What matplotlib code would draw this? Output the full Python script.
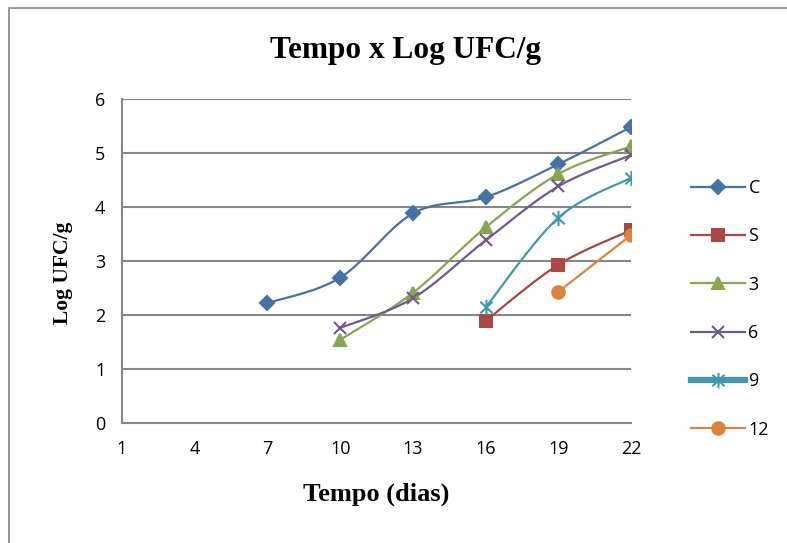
import numpy as np
import matplotlib
matplotlib.use("Agg")
import matplotlib.pyplot as plt
from matplotlib.lines import Line2D
from matplotlib.patches import Rectangle
from matplotlib.path import Path

dias = [1, 4, 7, 10, 13, 16, 19, 22]

# Log UFC/g per day for each sample (None = no reading)
serie_C = [None, None, 2.22, 2.69, 3.88, 4.18, 4.79, 5.48]
serie_S = [None, None, None, None, None, 1.89, 2.93, 3.57]
serie_3 = [None, None, None, 1.54, 2.41, 3.62, 4.61, 5.12]
serie_6 = [None, None, None, 1.76, 2.31, 3.38, 4.38, 4.96]
serie_9 = [None, None, None, None, None, 2.14, 3.80, 4.54]
serie_12 = [None, None, None, None, None, None, 2.43, 3.48]

nomes = ['C', 'S', '3', '6', '9', '12']
series = [serie_C, serie_S, serie_3, serie_6, serie_9, serie_12]
cores = ['#4572A7', '#AA4643', '#89A54E', '#71588F', '#4198AF', '#DB843D']

# star marker: vertical stroke plus an X
estrela = Path([(0, -1), (0, 1), (-0.8, -0.75), (0.8, 0.75), (-0.8, 0.75), (0.8, -0.75)],
               [Path.MOVETO, Path.LINETO, Path.MOVETO, Path.LINETO, Path.MOVETO, Path.LINETO])
marcas = ['D', 's', '^', 'x', estrela, 'o']
tamanhos = [7, 9, 9, 9, 11, 9]


def suaviza(x, y, n=30):
    # bezier spline through the points, like the smoothed line in a spreadsheet
    x = np.asarray(x, float)
    y = np.asarray(y, float)
    if len(x) < 3:
        return x, y
    px, py = [], []
    for i in range(len(x) - 1):
        x0, y0 = (x[i - 1], y[i - 1]) if i > 0 else (x[i], y[i])
        x3, y3 = (x[i + 2], y[i + 2]) if i + 2 < len(x) else (x[i + 1], y[i + 1])
        c1x = x[i] + (x[i + 1] - x0) / 6
        c1y = y[i] + (y[i + 1] - y0) / 6
        c2x = x[i + 1] - (x3 - x[i]) / 6
        c2y = y[i + 1] - (y3 - y[i]) / 6
        t = np.linspace(0, 1, n)
        bx = (1-t)**3*x[i] + 3*(1-t)**2*t*c1x + 3*(1-t)*t**2*c2x + t**3*x[i+1]
        by = (1-t)**3*y[i] + 3*(1-t)**2*t*c1y + 3*(1-t)*t**2*c2y + t**3*y[i+1]
        px.extend(bx)
        py.extend(by)
    return np.array(px), np.array(py)


fig = plt.figure(figsize=(7.87, 5.43), dpi=100)
ax = fig.add_axes([0.155, 0.221, 0.647, 0.597])

pos = np.arange(len(dias))
handles = []
for nome, vals, cor, m, ms in zip(nomes, series, cores, marcas, tamanhos):
    xs = [p for p, v in zip(pos, vals) if v is not None]
    ys = [v for v in vals if v is not None]
    sx, sy = suaviza(xs, ys)
    ax.plot(sx, sy, color=cor, lw=1.6, zorder=3)
    ax.plot(xs, ys, linestyle='none', marker=m, color=cor, markersize=ms,
            markeredgewidth=1.5, zorder=4)
    lw_leg = 4.5 if nome == '9' else 1.6
    handles.append(Line2D([], [], color=cor, lw=lw_leg, marker=m, markersize=ms,
                          markeredgewidth=1.5))

ax.set_xlim(0, len(dias) - 1)
ax.set_ylim(0, 6)
ax.set_xticks(pos)
ax.set_xticklabels([str(d) for d in dias])
ax.set_yticks(range(7))
ax.yaxis.grid(True, color='#868686', lw=1.5)
ax.set_axisbelow(True)
for s in ['top', 'right']:
    ax.spines[s].set_visible(False)
for s in ['left', 'bottom']:
    ax.spines[s].set_color('#868686')
    ax.spines[s].set_linewidth(1.5)
ax.tick_params(length=0, labelsize=13)
for lab in ax.get_xticklabels() + ax.get_yticklabels():
    lab.set_fontfamily('Open Sans')
ax.tick_params(axis='x', pad=12)
ax.tick_params(axis='y', pad=12)

fig.text(0.515, 0.907, 'Tempo x Log UFC/g', fontsize=22.5, fontweight='bold',
         family='Liberation Serif', ha='center', va='center')
ax.set_xlabel('Tempo (dias)', fontsize=19, fontweight='bold',
              family='Liberation Serif', labelpad=18)
ax.set_ylabel('Log UFC/g', fontsize=15.5, fontweight='bold',
              family='Liberation Serif')
ax.yaxis.set_label_coords(-0.097, 0.463)

leg = fig.legend(handles, nomes, loc='center left', bbox_to_anchor=(0.857, 0.431),
                 frameon=False, handlelength=3.0, labelspacing=1.68,
                 prop={'family': 'Open Sans', 'size': 13}, handletextpad=0.2)

fig.add_artist(Rectangle((0.011, -0.05), 1.2, 1.035, transform=fig.transFigure,
                         fill=False, edgecolor='#868686', lw=1.2))

fig.savefig('out.png', dpi=100)
